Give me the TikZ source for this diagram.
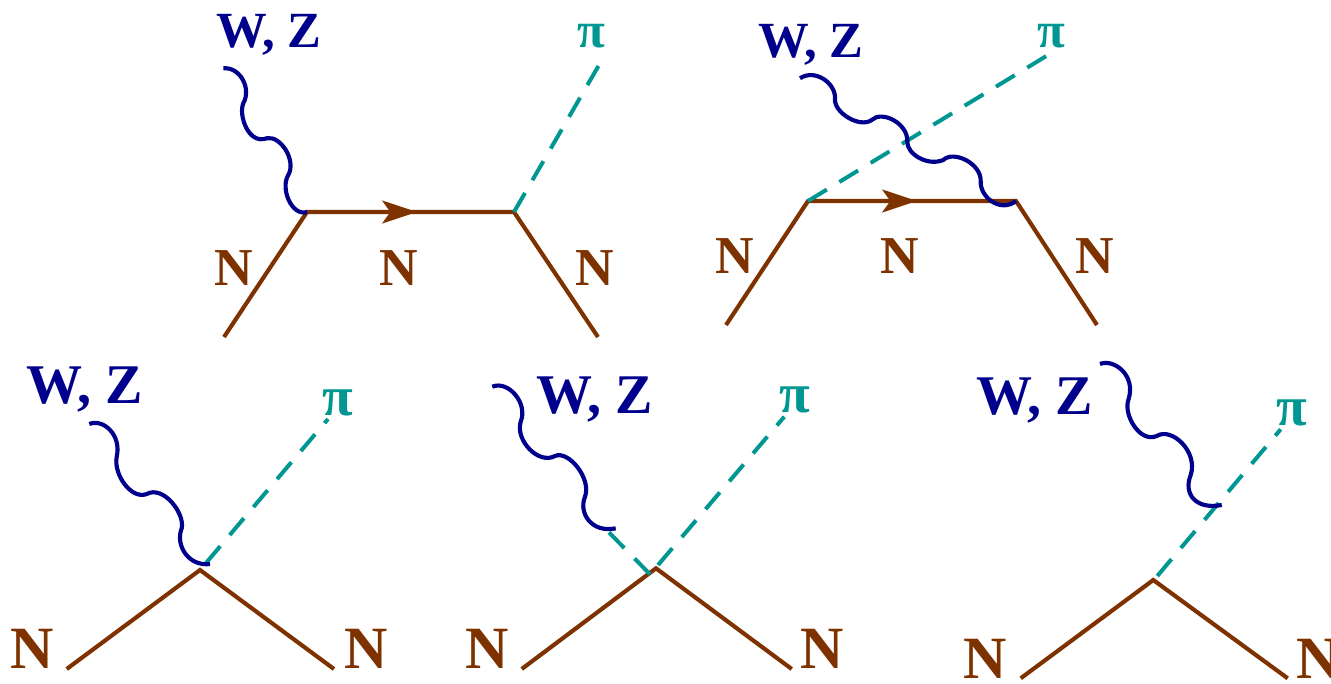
\documentclass[tikz,border=0pt]{standalone}
\usepackage{fontspec}
\setmainfont{Liberation Serif}
\usetikzlibrary{arrows.meta}
\definecolor{wblue}{RGB}{0,0,140}
\definecolor{piteal}{RGB}{0,150,145}
\definecolor{nbrown}{RGB}{125,50,0}

\begin{document}
\begin{tikzpicture}[x=0.75pt, y=-0.75pt,
		wline/.style={draw=wblue, line width=3.1pt},
		piline/.style={draw=piteal, line width=3pt, dash pattern=on 16.5pt off 11pt},
		nline/.style={draw=nbrown, line width=3.1pt},
		narrow/.style={nline, -{Stealth[length=26pt, width=17pt, inset=6pt]}},
		wlabel/.style={text=wblue, anchor=base west, inner sep=0pt, font=\fontsize{38}{40}\selectfont\bfseries},
		pilabel/.style={text=piteal, anchor=base west, inner sep=0pt, font=\fontsize{38}{40}\selectfont\bfseries},
		nlabel/.style={text=nbrown, anchor=base west, inner sep=0pt, font=\fontsize{40}{42}\selectfont\bfseries},
		biglabel/.style={font=\fontsize{42}{44}\selectfont\bfseries},
		bign/.style={font=\fontsize{45}{47}\selectfont\bfseries}]
		\useasboundingbox (0, 0) rectangle (1331, 683);

		\coordinate (p1_a) at (224, 337);
		\coordinate (p1_v1) at (307, 212);
		\coordinate (p1_t) at (395, 212);
		\coordinate (p1_m) at (417, 212);
		\coordinate (p1_v2) at (514, 212);
		\coordinate (p1_b) at (598, 337);
		\coordinate (p1_pi) at (599, 65);
		\coordinate (p1_w) at (223.3, 68.3);
		\node[wlabel] (p1_wz) at (216, 47) {W, Z};
		\node[pilabel] (p1_pilab) at (577, 47) {π};
		\node[nlabel] (p1_n1) at (214, 285) {N};
		\node[nlabel] (p1_n2) at (379, 285) {N};
		\node[nlabel] (p1_n3) at (575, 285) {N};
		\draw[nline] (p1_a) -- (p1_v1) -- (p1_v2) -- (p1_b);
		\draw[narrow] (p1_t) -- (p1_m);
		\draw[piline] (p1_v2) -- (p1_pi);
		\draw[wline] (p1_w) .. controls (240, 66.7) and (251.7, 88.3) .. (243.3, 103.3) .. controls (238.3, 115) and (248.3, 145) .. (266.7, 138.3) .. controls (280, 135) and (296.7, 160) .. (288.3, 175) .. controls (280, 188.3) and (291.7, 216.7) .. (p1_v1);

		\coordinate (p2_a) at (726, 325);
		\coordinate (p2_v1) at (808, 201);
		\coordinate (p2_t) at (895, 201);
		\coordinate (p2_m) at (917, 201);
		\coordinate (p2_v2) at (1016, 201);
		\coordinate (p2_b) at (1097, 325);
		\coordinate (p2_pi) at (1048, 55);
		\coordinate (p2_w) at (800, 78.3);
		\node[wlabel] (p2_wz) at (758, 57.3) {W, Z};
		\node[pilabel] (p2_pilab) at (1037, 47) {π};
		\node[nlabel] (p2_n1) at (715.7, 273) {N};
		\node[nlabel] (p2_n2) at (880.7, 273) {N};
		\node[nlabel] (p2_n3) at (1075.7, 273) {N};
		\draw[nline] (p2_a) -- (p2_v1) -- (p2_v2) -- (p2_b);
		\draw[narrow] (p2_t) -- (p2_m);
		\draw[piline] (p2_v1) -- (p2_pi);
		\draw[wline] (p2_w) .. controls (815, 68.3) and (836.7, 83.3) .. (835, 100) .. controls (835, 113.3) and (860, 128.3) .. (871.7, 120) .. controls (881.7, 110) and (908.3, 123.3) .. (907.3, 141.7) .. controls (906.7, 153.3) and (926.7, 166.7) .. (943.3, 160) .. controls (953.3, 150) and (981.7, 163.3) .. (980.7, 181.7) .. controls (980, 196.7) and (1000, 213.3) .. (p2_v2);

		\coordinate (p3_a) at (66.7, 669);
		\coordinate (p3_v) at (200, 570);
		\coordinate (p3_b) at (334, 669);
		\coordinate (p3_d) at (206, 563);
		\coordinate (p3_pi) at (328, 419);
		\coordinate (p3_w) at (89.3, 424);
		\coordinate (p3_we) at (210, 564);
		\node[wlabel, biglabel] (p3_wz) at (26.7, 403) {W, Z};
		\node[pilabel, biglabel] (p3_pilab) at (322.7, 415) {π};
		\node[nlabel, bign] (p3_n1) at (10, 668) {N};
		\node[nlabel, bign] (p3_n2) at (344, 668) {N};
		\draw[nline] (p3_a) -- (p3_v) -- (p3_b);
		\draw[piline] (p3_d) -- (p3_pi);
		\draw[wline] (p3_w) .. controls (103.3, 418.3) and (121.7, 435) .. (116.7, 456.7) .. controls (113.3, 475) and (131.7, 500) .. (146.7, 494) .. controls (163.3, 485) and (185, 513.3) .. (181.7, 528.3) .. controls (175, 545) and (188.3, 566.7) .. (p3_we);

		\coordinate (p4_a) at (521.7, 669);
		\coordinate (p4_v) at (656, 568.3);
		\coordinate (p4_b) at (791.7, 669);
		\coordinate (p4_d1) at (658, 565);
		\coordinate (p4_pi) at (784.3, 416.7);
		\coordinate (p4_d2) at (650, 574.3);
		\coordinate (p4_dw) at (605, 528.3);
		\coordinate (p4_w) at (492.3, 386.7);
		\coordinate (p4_we) at (615.7, 528.3);
		\node[wlabel, biglabel] (p4_wz) at (536, 413) {W, Z};
		\node[pilabel, biglabel] (p4_pilab) at (779.3, 412.7) {π};
		\node[nlabel, bign] (p4_n1) at (465, 668) {N};
		\node[nlabel, bign] (p4_n2) at (800.7, 668) {N};
		\draw[nline] (p4_a) -- (p4_v) -- (p4_b);
		\draw[piline] (p4_d1) -- (p4_pi);
		\draw[piline] (p4_d2) -- (p4_dw);
		\draw[wline] (p4_w) .. controls (508.3, 380) and (528.3, 403.3) .. (520.7, 421.7) .. controls (515, 440) and (538.3, 465) .. (555, 456) .. controls (568.3, 450) and (591.7, 478.3) .. (585, 496.7) .. controls (578.3, 513.3) and (591.7, 533.3) .. (p4_we);

		\coordinate (p5_a) at (1020.7, 678.3);
		\coordinate (p5_v) at (1153.3, 580);
		\coordinate (p5_b) at (1287.7, 678.3);
		\coordinate (p5_d) at (1157.3, 576);
		\coordinate (p5_pi) at (1280.7, 429.3);
		\coordinate (p5_w) at (1100, 364);
		\coordinate (p5_we) at (1221.7, 505);
		\node[wlabel, biglabel] (p5_wz) at (976.7, 414) {W, Z};
		\node[pilabel, biglabel] (p5_pilab) at (1276.7, 425) {π};
		\node[nlabel, bign] (p5_n1) at (963.3, 678) {N};
		\node[nlabel, bign] (p5_n2) at (1296.7, 678) {N};
		\draw[nline] (p5_a) -- (p5_v) -- (p5_b);
		\draw[piline] (p5_d) -- (p5_pi);
		\draw[wline] (p5_w) .. controls (1113.3, 358.3) and (1136.7, 375) .. (1128.3, 400) .. controls (1123.3, 415) and (1140, 443.3) .. (1156.7, 436) .. controls (1171.7, 426.7) and (1198.3, 451.7) .. (1190.7, 475) .. controls (1183.3, 493.3) and (1195, 510) .. (p5_we);
	\end{tikzpicture}
\end{document}
